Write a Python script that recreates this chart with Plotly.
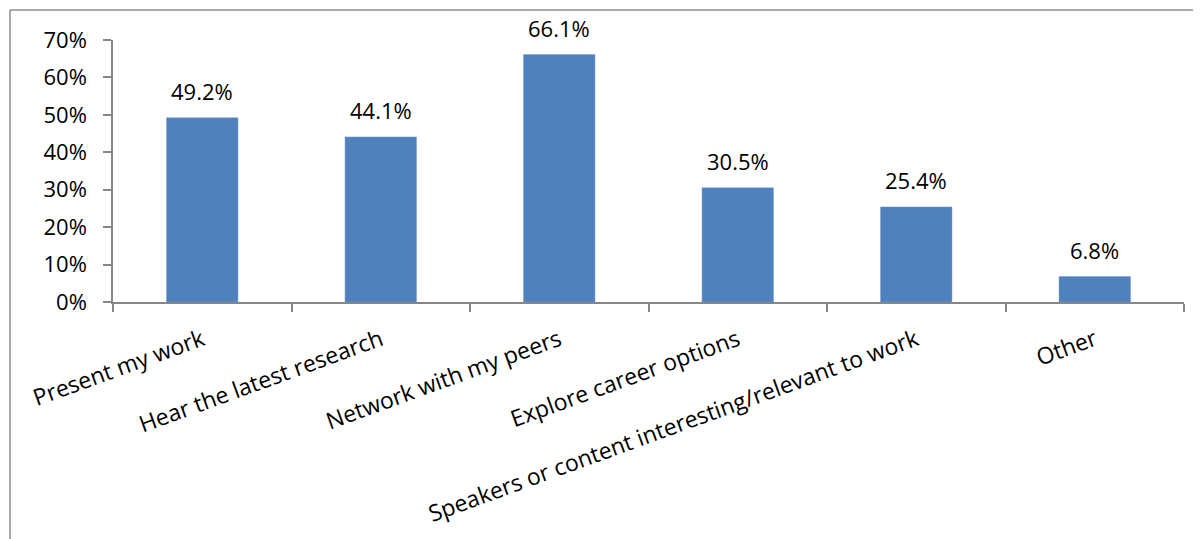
import plotly.graph_objects as go

categories = ["Present my work", "Hear the latest research", "Network with my peers",
              "Explore career options", "Speakers or content interesting/relevant to work", "Other"]
values = [49.2, 44.1, 66.1, 30.5, 25.4, 6.8]
value_labels = ["49.2%", "44.1%", "66.1%", "30.5%", "25.4%", "6.8%"]
y_ticks = [0, 10, 20, 30, 40, 50, 60, 70]
y_tick_labels = ["0%", "10%", "20%", "30%", "40%", "50%", "60%", "70%"]

FONT = "Open Sans"
FS = 22
FS_CAT = 23
AXIS_COLOR = "#868686"

OFF = 8  # page body margin
W, H = 1201, 539
L, T = 113 - OFF, 40 - OFF
B = H - (302 - OFF)
R = W - (1184 - OFF)
pw, ph = W - L - R, H - T - B

fig = go.Figure()
fig.add_trace(go.Bar(
    x=categories, y=values, width=0.4,
    marker=dict(color="#4F81BD", line=dict(color="#6F97CC", width=0.5)),
    hoverinfo="skip",
))

for c, v, t in zip(categories, values, value_labels):
    fig.add_annotation(x=c, y=v, text=t, showarrow=False, xref="x", yref="y",
                       yanchor="bottom", yshift=10,
                       font=dict(family=FONT, size=FS, color="#000000"))

def px_x(p):
    return (p - L) / pw

def px_y(p):
    return (H - B - p) / ph

# chart frame (top and left edges visible)
fig.add_shape(type="line", xref="paper", yref="paper",
              x0=px_x(2), x1=px_x(W + 5), y0=px_y(2), y1=px_y(2),
              line=dict(color="#8C8C8C", width=1.5))
fig.add_shape(type="line", xref="paper", yref="paper",
              x0=px_x(2), x1=px_x(2), y0=px_y(2), y1=px_y(H + 5),
              line=dict(color="#8C8C8C", width=1.5))

fig.update_layout(
    width=W, height=H,
    margin=dict(l=L, r=R, t=T, b=B, pad=0),
    paper_bgcolor="white", plot_bgcolor="white",
    showlegend=False,
    font=dict(family=FONT, size=FS, color="#000000"),
)
fig.update_xaxes(
    type="category", categoryorder="array", categoryarray=categories,
    range=[-0.5, len(categories) - 0.5], autorange=False, automargin=False,
    showline=True, linecolor=AXIS_COLOR, linewidth=1.5,
    ticks="outside", ticklen=8, tickcolor=AXIS_COLOR, tickwidth=1.5,
    tickson="boundaries", tickangle=-20, showgrid=False, ticklabelstandoff=14,
    tickfont=dict(family=FONT, size=FS_CAT, color="#000000"),
)
fig.update_yaxes(
    range=[0, 70], tickvals=y_ticks, ticktext=y_tick_labels,
    showline=True, linecolor=AXIS_COLOR, linewidth=1.5,
    ticks="outside", ticklen=8, tickcolor=AXIS_COLOR, tickwidth=1.5,
    showgrid=False, zeroline=False, ticklabelstandoff=12, automargin=False,
    tickfont=dict(family=FONT, size=FS, color="#000000"),
)

fig.write_html("out.html")
